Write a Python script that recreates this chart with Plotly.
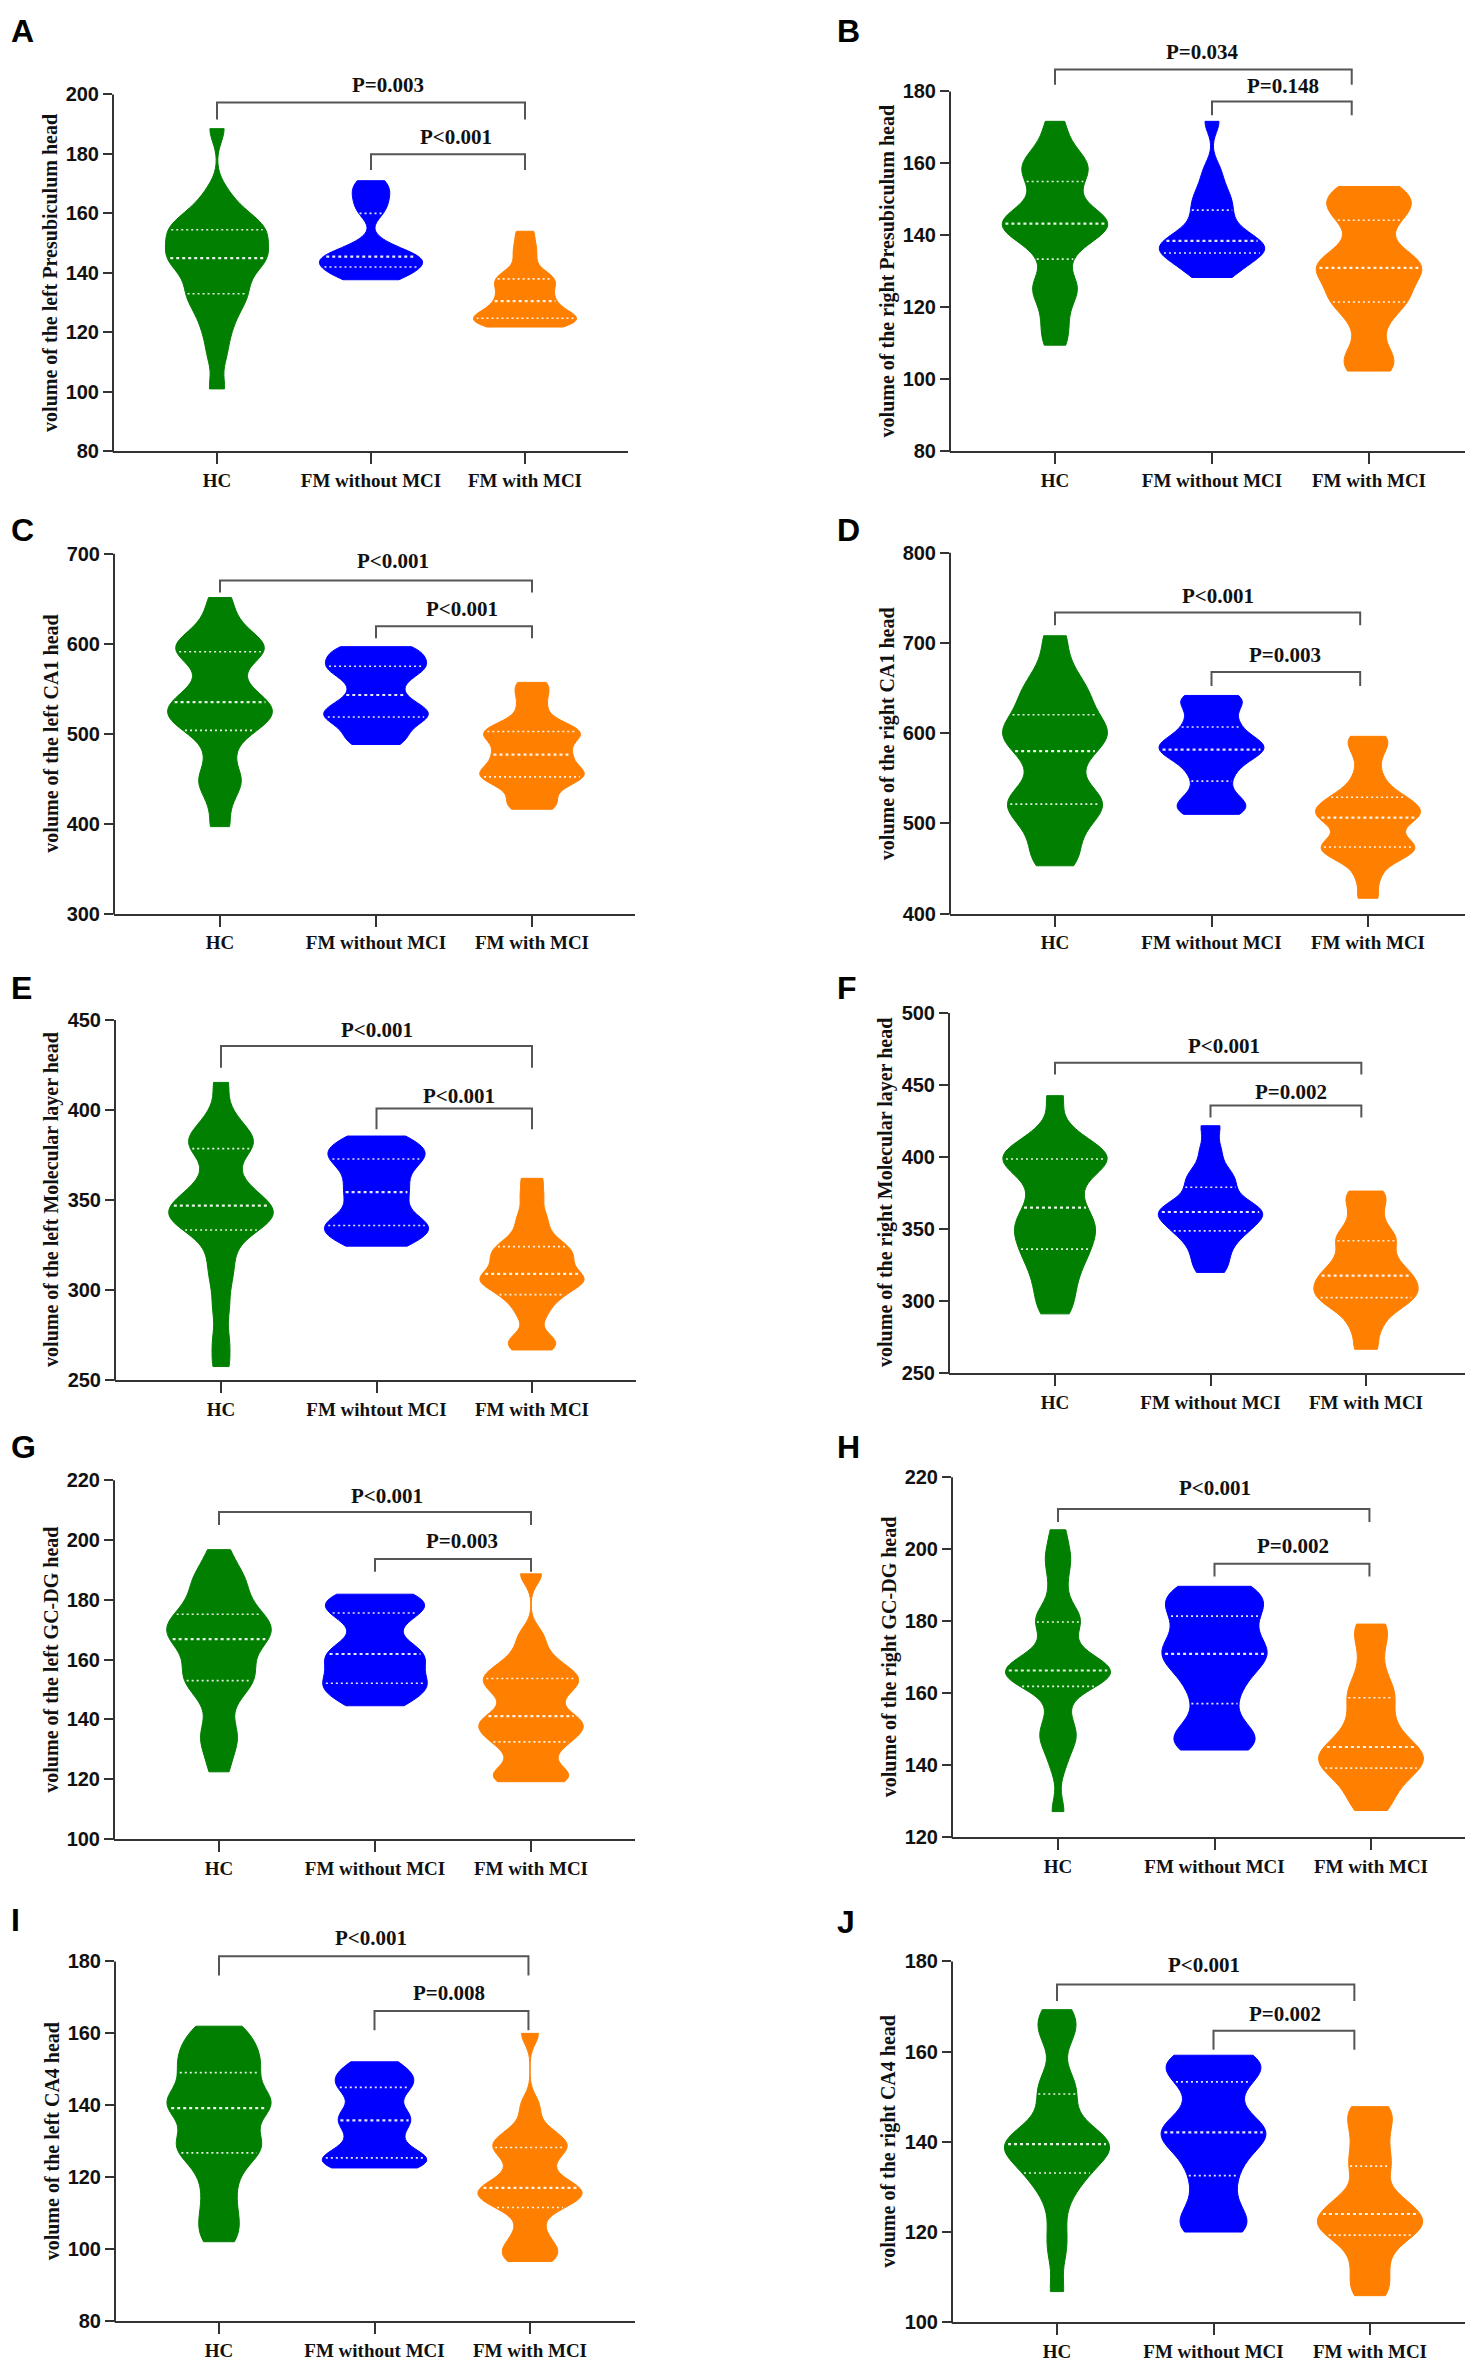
import numpy as np
import plotly.graph_objects as go

W, H = 1477, 2377

categories = ["HC", "FM without MCI", "FM with MCI"]
categories_E = ["HC", "FM wihtout MCI", "FM with MCI"]
colors = ["#007F00", "#0000FF", "#FF7F00"]

# ---------------- data (estimated sample values per group) ----------------
A_HC = [101, 112, 119, 124, 128, 131, 133, 135, 138, 141, 143, 144.5, 145, 146, 148, 150, 152, 153, 154.5, 156, 157, 159, 162, 167, 188.5]
A_WO = [137.7, 138.5, 140, 141, 142, 143, 144, 145, 145.5, 146, 147, 150, 160, 163, 166, 168.5, 171]
A_W = [121.8, 122.5, 123, 124, 124.5, 125, 126, 127, 129, 130.5, 132, 134, 136, 137.5, 138.5, 140, 145, 149, 154]

B_HC = [109.5, 114, 119, 124, 125.5, 127, 133.4, 137, 139.5, 141, 142, 143, 143.3, 144, 145, 146.5, 149, 153, 155, 158, 159, 160, 162, 166, 171.7]
B_WO = [128.3, 130, 132, 134, 135, 135.5, 136, 137, 138, 139, 140, 142, 145, 147.7, 150, 153, 158, 171.7]
B_W = [102.3, 104.5, 108, 115, 120, 122, 123, 126, 129, 130.5, 131.5, 132.5, 134, 138, 143.6, 146, 148, 150, 152, 153.6]

C_HC = [396.7, 425, 445, 450, 470, 490, 503.7, 510, 515, 520, 525, 530, 535, 540, 548, 560, 575, 585, 591, 595, 600, 605, 615, 630, 651.3]
C_WO = [488, 495, 505, 515, 518.5, 522, 528, 533, 543, 555, 565, 572, 575, 580, 588, 594, 596.7]
C_W = [416, 422, 432, 442, 448, 451, 455, 458, 462, 468, 475.3, 478, 485, 492, 497, 500.7, 503, 508, 515, 530, 545, 557]

D_HC = [453, 465, 480, 495, 505, 512, 521.4, 525, 530, 540, 555, 570, 580, 588, 595, 600, 605, 612, 620.4, 630, 640, 650, 660, 680, 708]
D_WO = [510, 515, 522, 530, 546.8, 560, 570, 578, 581.8, 585, 590, 595, 606.8, 615, 630, 638, 641.8]
D_W = [417, 440, 458, 465, 470, 473, 476, 480, 490, 500, 505, 508, 512, 516, 520, 526, 530, 540, 555, 575, 590, 596.5]

E_HC = [257.4, 272, 290, 305, 315, 325, 333.3, 336, 338, 340, 342, 344, 346.8, 348, 351, 355, 360, 368, 378.5, 380, 382, 385, 390, 398, 415.3]
E_WO = [324.3, 328, 332, 335, 336, 340, 346, 352, 356.6, 362, 368, 372, 375, 378, 381, 385.5]
E_W = [266.6, 270, 274, 285, 292, 296.5, 300, 303, 305, 306, 307.7, 310, 314, 317, 319, 322, 324.7, 328, 335, 342, 352, 362]

F_HC = [291, 300, 310, 318, 326, 332, 336, 342, 348, 350, 354, 360, 364.8, 372, 380, 388, 392, 396, 398.6, 400, 403, 406, 410, 420, 442.6]
F_WO = [319.8, 328, 336, 343, 348, 350.5, 355, 358, 361, 362.5, 364, 368, 373, 380.9, 385, 392, 405, 421.7]
F_W = [266.4, 280, 290, 296, 300, 303, 306, 309, 312, 316, 319, 322, 328, 333, 341, 344, 350, 360, 370, 376.3]

G_HC = [122.5, 130, 134, 138, 146, 150, 153, 154, 156, 159, 162, 165, 166.9, 168, 169, 171, 172, 174, 175.2, 178, 181, 185, 187, 190, 196.8]
G_WO = [144.6, 147, 150, 151.5, 152.1, 155, 158, 160, 161.9, 163, 166, 172, 175.6, 177, 179, 180.5, 181.9]
G_W = [119.2, 120, 121.5, 124, 129, 132, 134, 136, 137.5, 139, 140.3, 142, 146, 149, 151, 152.9, 154, 156, 158, 162, 168, 188.7]

H_HC = [127.1, 140, 146, 148, 150, 155, 161.9, 163, 164, 165, 165.5, 166, 166.3, 167, 168, 170, 172, 178, 179.8, 181, 183, 190, 196, 199, 205.4]
H_WO = [144.2, 146, 148, 150, 157.1, 162, 166, 169, 170.9, 172, 174, 178, 181.4, 184, 186, 188, 189.7]
H_W = [127.4, 130, 133, 136, 138, 138.9, 140, 141.5, 142.5, 143.5, 144.6, 145.5, 148, 151, 153, 157.9, 159, 162, 166, 172, 177, 179.2]

I_HC = [102.1, 106, 110, 115, 120, 124, 126.8, 128, 129.5, 131, 134, 137, 139.2, 140, 141, 142, 144, 147, 149.1, 151, 153, 155, 157, 160, 162]
I_WO = [122.6, 123.5, 124.5, 125, 125.4, 128, 131, 134, 135.8, 137, 139, 143, 145, 146.5, 148, 150, 152.1]
I_W = [96.6, 98, 100, 102, 106, 111.3, 112.5, 114, 115, 116, 116.6, 117.5, 119, 122, 125, 127.7, 128.5, 129.5, 131, 134, 140, 160]

J_HC = [106.8, 115, 120, 126, 130, 132, 133.1, 135, 136.5, 137.5, 138.5, 139, 139.5, 140, 141, 142, 144, 147, 150.6, 152, 155, 162, 165, 167, 169.3]
J_WO = [120, 121.5, 123.5, 128, 132.5, 136, 139, 141, 142.1, 143, 145, 149, 153.3, 155, 157, 158.5, 159.2]
J_W = [105.9, 108, 111, 114, 117, 119.1, 120, 121, 121.8, 122.5, 123.5, 124.5, 126, 127, 129, 133.5, 135, 138, 141, 144, 146.5, 147.8]

# KDE bandwidths per group
bandwidths = {
    "A": [4.5, 3.0, 2.8], "B": [4.0, 3.2, 4.0], "C": [14, 10, 9], "D": [16, 11, 11],
    "E": [8, 6, 5], "F": [10, 7, 7], "G": [5, 4, 3.5], "H": [4, 4.5, 4],
    "I": [4, 3, 3], "J": [3.5, 3.5, 3],
}

titles = {
    "A": "volume of the left Presubiculum head",
    "B": "volume of the right Presubiculum head",
    "C": "volume of the left CA1 head",
    "D": "volume of the right CA1 head",
    "E": "volume of the left Molecular layer head",
    "F": "volume of the right Molecular layer head",
    "G": "volume of the left GC-DG head",
    "H": "volume of the right GC-DG head",
    "I": "volume of the left CA4 head",
    "J": "volume of the right CA4 head",
}

groups = {
    "A": [A_HC, A_WO, A_W], "B": [B_HC, B_WO, B_W], "C": [C_HC, C_WO, C_W],
    "D": [D_HC, D_WO, D_W], "E": [E_HC, E_WO, E_W], "F": [F_HC, F_WO, F_W],
    "G": [G_HC, G_WO, G_W], "H": [H_HC, H_WO, H_W], "I": [I_HC, I_WO, I_W],
    "J": [J_HC, J_WO, J_W],
}

# y ticks: (min, max, step)
yticks = {
    "A": (80, 200, 20), "B": (80, 180, 20), "C": (300, 700, 100), "D": (400, 800, 100),
    "E": (250, 450, 50), "F": (250, 500, 50), "G": (100, 220, 20), "H": (120, 220, 20),
    "I": (80, 180, 20), "J": (100, 180, 20),
}

p_texts = {
    "A": ["P=0.003", "P<0.001"], "B": ["P=0.034", "P=0.148"], "C": ["P<0.001", "P<0.001"],
    "D": ["P<0.001", "P=0.003"], "E": ["P<0.001", "P<0.001"], "F": ["P<0.001", "P=0.002"],
    "G": ["P<0.001", "P=0.003"], "H": ["P<0.001", "P=0.002"], "I": ["P<0.001", "P=0.008"],
    "J": ["P<0.001", "P=0.002"],
}

# ---------------- layout geometry (pixels) ----------------
# (axis_left, axis_right, cat0_px, cat2_px, ymin_px, ymax_px, plot_top_px)
geom = {
    "A": (113, 628, 217, 525, 451, 92, 60),
    "B": (950, 1465, 1055, 1369, 451, 89, 30),
    "C": (114, 635, 220, 532, 916, 554, 540),
    "D": (950, 1465, 1055, 1368, 916, 553, 540),
    "E": (115, 636, 221, 532, 1385, 1023, 1010),
    "F": (949, 1465, 1055, 1366, 1378, 1016, 1005),
    "G": (114, 635, 219, 531, 1847, 1486, 1475),
    "H": (952, 1465, 1058, 1371, 1845, 1483, 1475),
    "I": (115, 635, 219, 530, 2332, 1970, 1930),
    "J": (952, 1465, 1057, 1370, 2333, 1970, 1955),
}
# brackets: (top, leg_bottom, text_y) for [HC-FMwith, FMwithout-FMwith]
brackets = {
    "A": [(197.3, 191.6, 203.3), (179.9, 174.6, 185.6)],
    "B": [(186.1, 181.9, 191.0), (177.2, 173.4, 181.4)],
    "C": [(670.2, 656.9, 692.3), (619.3, 606.1, 638.1)],
    "D": [(733.9, 719.6, 752.6), (667.8, 652.3, 686.5)],
    "E": [(435.6, 423.5, 444.5), (400.8, 389.2, 408.0)],
    "F": [(465.5, 457.2, 477.2), (435.8, 427.5, 444.8)],
    "G": [(209.4, 205.0, 214.7), (193.7, 189.4, 199.7)],
    "H": [(211.2, 207.6, 217.0), (196.0, 192.4, 200.9)],
    "I": [(181.4, 176.1, 186.4), (166.2, 160.9, 171.2)],
    "J": [(174.9, 171.2, 179.3), (164.6, 160.4, 168.3)],
}
bracket_right = {"A": 2.0, "B": 1.89, "C": 2.0, "D": 1.95, "E": 2.0, "F": 1.97, "G": 2.0, "H": 1.99, "I": 1.99, "J": 1.9}
text_x = {"A": [1.11, 1.55], "B": [0.94, 1.45], "C": [1.11, 1.55], "D": [1.04, 1.47], "E": [1.0, 1.53],
          "F": [1.09, 1.52], "G": [1.08, 1.56], "H": [1.0, 1.5], "I": [0.98, 1.48], "J": [0.94, 1.46]}

VW = 0.67  # violin width in category units

SERIF = "Liberation Serif, Times New Roman, serif"
SANS = "Liberation Sans Narrow, Arial Narrow, Liberation Sans, Arial, sans-serif"
AXC = "#333333"


def kde(vals, bw, t):
    v = np.asarray(vals, dtype=float)
    t = np.atleast_1d(np.asarray(t, dtype=float))
    z = (t[:, None] - v[None, :]) / bw
    return np.exp(-0.5 * z * z).sum(axis=1) / (len(v) * bw * np.sqrt(2 * np.pi))


def max_kde(vals, bw):
    lo, hi = min(vals), max(vals)
    n = int(np.ceil((hi - lo) / (bw / 3.0)))
    step = (hi - lo) / n
    t = lo + step * np.arange(n + 1)
    return kde(vals, bw, t).max()


fig = go.Figure()
annotations = []
shapes = []
layout_axes = {}

for idx, key in enumerate("ABCDEFGHIJ"):
    n = idx + 1
    xa = "x" if n == 1 else f"x{n}"
    ya = "y" if n == 1 else f"y{n}"
    xl, xr, c0, c2, ybot, ytop, ptop = geom[key]
    vmin, vmax, vstep = yticks[key]
    ppu = (c2 - c0) / 2.0
    xmin = -(c0 - xl) / ppu
    xmax = 2 + (xr - c2) / ppu
    ppv = (ybot - ytop) / (vmax - vmin)
    ymax_range = vmax + (ytop - ptop) / ppv

    cats = categories_E if key == "E" else categories
    layout_axes["xaxis" if n == 1 else f"xaxis{n}"] = dict(
        domain=[xl / W, xr / W], anchor=ya, range=[xmin, xmax],
        tickmode="array", tickvals=[0, 1, 2], ticktext=cats,
        showline=True, linecolor=AXC, linewidth=2, ticks="outside", ticklen=11,
        tickwidth=2, tickcolor=AXC, showgrid=False, zeroline=False,
        tickfont=dict(family=SERIF, size=19, color="#111111", weight="bold"),
        fixedrange=True,
    )
    layout_axes["yaxis" if n == 1 else f"yaxis{n}"] = dict(
        domain=[1 - ybot / H, 1 - ptop / H], anchor=xa, range=[vmin, ymax_range],
        tickmode="array", tickvals=list(range(vmin, vmax + 1, vstep)),
        showline=False, ticks="outside", ticklen=9, tickwidth=2, tickcolor=AXC,
        showgrid=False, zeroline=False,
        tickfont=dict(family=SANS, size=20, color="#111111", weight="bold"),
        fixedrange=True,
    )
    # y axis line only spanning the tick range
    shapes.append(dict(type="line", xref="paper", yref="paper",
                       x0=xl / W, x1=xl / W, y0=1 - (ybot + 1) / H, y1=1 - ytop / H,
                       line=dict(color=AXC, width=2)))

    for gi, vals in enumerate(groups[key]):
        bw = bandwidths[key][gi]
        col = colors[gi]
        fig.add_trace(go.Violin(
            y=vals, x0=gi, xaxis=xa, yaxis=ya, width=VW, spanmode="hard",
            bandwidth=bw, scalemode="width", fillcolor=col,
            line=dict(color=col, width=1), points=False,
            box=dict(visible=False), meanline=dict(visible=False),
            hoverinfo="skip", showlegend=False, opacity=1,
        ))
        mk = max_kde(vals, bw)
        qs = np.percentile(vals, [25, 50, 75])
        for qi, q in enumerate(qs):
            hw = (VW / 2.0) * kde(vals, bw, q)[0] / mk * 0.94
            fig.add_trace(go.Scatter(
                x=[gi - hw, gi + hw], y=[q, q], xaxis=xa, yaxis=ya, mode="lines",
                line=dict(color="rgba(255,255,255,0.9)", width=2.2 if qi == 1 else 1.6,
                          dash="3px,3px" if qi == 1 else "2px,3px"),
                hoverinfo="skip", showlegend=False,
            ))

    # significance brackets
    br = bracket_right[key]
    lefts = [0.0, 1.0]
    for bi, (top, leg, ty) in enumerate(brackets[key]):
        fig.add_trace(go.Scatter(
            x=[lefts[bi], lefts[bi], br, br], y=[leg, top, top, leg],
            xaxis=xa, yaxis=ya, mode="lines",
            line=dict(color="#555555", width=2), hoverinfo="skip", showlegend=False,
        ))
        annotations.append(dict(
            xref=xa, yref=ya, x=text_x[key][bi], y=ty, text=p_texts[key][bi],
            showarrow=False, xanchor="center", yanchor="middle",
            font=dict(family=SERIF, size=21, color="#111111", weight="bold"),
        ))

    # y-axis title
    annotations.append(dict(
        xref="paper", yref="paper", x=(xl - 63) / W, y=1 - ((ybot + ytop) / 2.0) / H,
        text=titles[key], textangle=-90, showarrow=False,
        xanchor="center", yanchor="middle",
        font=dict(family=SERIF, size=20, color="#111111", weight="bold"),
    ))

letter_pos = {"A": (9, 28), "B": (835, 28), "C": (9, 530), "D": (835, 530),
              "E": (9, 991), "F": (835, 991), "G": (9, 1453), "H": (835, 1453),
              "I": (9, 1928), "J": (835, 1930)}
for key, (lx, ly) in letter_pos.items():
    annotations.append(dict(
        xref="paper", yref="paper", x=lx / W, y=1 - ly / H, text=key,
        showarrow=False, xanchor="left", yanchor="middle",
        font=dict(family="Liberation Sans, Arial, sans-serif", size=32, color="#000000", weight="bold"),
    ))

fig.update_layout(
    width=W, height=H, margin=dict(l=0, r=0, t=0, b=0),
    paper_bgcolor="white", plot_bgcolor="white",
    violinmode="overlay", showlegend=False,
    annotations=annotations, shapes=shapes,
    **layout_axes,
)

fig.write_html("out.html", config={"displayModeBar": False, "staticPlot": True},
               post_script="document.body.style.margin='0px';")
